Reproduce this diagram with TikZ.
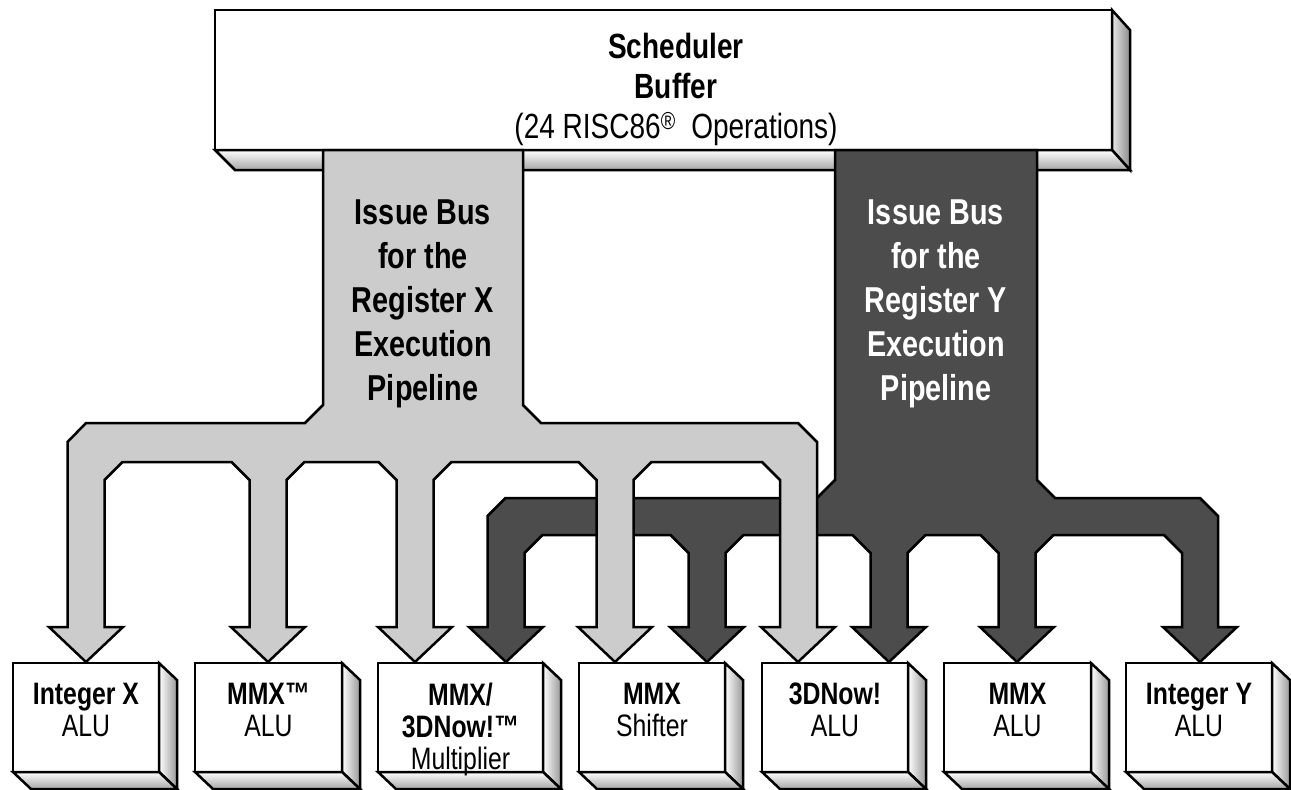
\documentclass[tikz,border=0pt]{standalone}
\usepackage{fontspec}
\setmainfont{Liberation Sans}[FakeStretch=0.8]
\usetikzlibrary{calc}
\tikzset{%
  unit box/.style={
    rectangle,
    draw,
    fill=white,
    line width=2.5pt,
    inner sep=0pt,
    outer sep=0pt,
    minimum height=109pt,
    anchor=north west
  },
  side face/.style={draw, line width=2.5pt, left color=white, right color=black!40},
  bottom face/.style={draw, line width=2.5pt, top color=white, bottom color=black!35},
  x bus/.style={draw, line width=2.5pt, fill=black!20},
  y bus/.style={draw, line width=2.5pt, fill=black!70},
  unit text/.style={anchor=north, inner sep=0pt, align=center,
    font=\fontsize{31}{32}\selectfont},
  bus text/.style={anchor=north, inner sep=0pt, align=center,
    font=\bfseries\fontsize{36}{44}\selectfont},
}
\newcommand{\execunit}[4]{%
  \node (#1) [unit box, minimum width=#3pt] at (#2,663) {};
  \draw [side face] (#1.north east) -- ++(18,17) -- ++(0,109) -- (#1.south east) -- cycle;
  \draw [bottom face] (#1.south west) -- ++(18,17) -- ($(#1.south east)+(18,17)$)
    -- (#1.south east) -- cycle;
  \node [unit text] at ($(#1.north)+(0,20)$) {#4};
}

\begin{document}
\begin{tikzpicture}[x=1pt,y=-1pt]
  \useasboundingbox (0,0) rectangle (1291,790);

  \node (sched) [unit box, minimum width=897pt, minimum height=140pt] at (215,10) {};
  \draw [side face, left color=black!10, right color=black!45]
    (sched.north east) -- ++(18,20) -- ++(0,140) -- (sched.south east) -- cycle;
  \draw [bottom face] (sched.south west) -- ++(20,20) -- ($(sched.south east)+(18,20)$)
    -- (sched.south east) -- cycle;
  \node [anchor=north, inner sep=0pt, align=center, font=\fontsize{35}{40}\selectfont]
    at (676,33) {\textbf{Scheduler}\\\textbf{Buffer}\\(24 RISC86\textsuperscript{®}\ \ Operations)};

  \execunit{intx}{13}{146}{\textbf{Integer X}\\ALU}
  \execunit{mmxa}{195}{147}{\textbf{MMX™}\\ALU}
  \execunit{mul}{378}{165}{\textbf{MMX/}\\\textbf{3DNow!™}\\Multiplier}
  \execunit{shf}{579}{146}{\textbf{MMX}\\Shifter}
  \execunit{tdn}{762}{146}{\textbf{3DNow!}\\ALU}
  \execunit{mmxb}{944}{147}{\textbf{MMX}\\ALU}
  \execunit{inty}{1126}{146}{\textbf{Integer Y}\\ALU}

  % register Y issue bus
  \draw [y bus] (835,150) -- (1037,150) -- (1037,480) -- (1055,498) -- (1200,498)
    -- (1218,516) -- (1218,627) -- (1237,627) -- (1200,662) -- (1163,627)
    -- (1182,627) -- (1182,553) -- (1164,535)
    \foreach \px in {1017,889,707} {
      -- (\px+36.5,535) -- (\px+18.5,553) -- (\px+18.5,627) -- (\px+37,627) -- (\px,662)
      -- (\px-37,627) -- (\px-18.5,627) -- (\px-18.5,553) -- (\px-36.5,535)
    }
    -- (542.5,535) -- (524.5,553) -- (524.5,627) -- (543,627) -- (506,662)
    -- (469,627) -- (487.5,627) -- (487.5,516) -- (505.5,498) -- (817,498)
    -- (835,480) -- cycle;

  % register X issue bus
  \draw [x bus] (323,150) -- (523,150) -- (523,405) -- (541,423) -- (798,423)
    -- (817,442) -- (817,627) -- (835,627) -- (798,662) -- (761,627)
    -- (780,627) -- (780,480) -- (762,462)
    \foreach \px in {615,415,268} {
      -- (\px+36.5,462) -- (\px+18.5,480) -- (\px+18.5,627) -- (\px+37,627) -- (\px,662)
      -- (\px-37,627) -- (\px-18.5,627) -- (\px-18.5,480) -- (\px-36.5,462)
    }
    -- (122.5,462) -- (104.5,480) -- (104.5,627) -- (123,627) -- (86,662)
    -- (49,627) -- (67.5,627) -- (67.5,442) -- (86,423) -- (305,423)
    -- (323,405) -- cycle;

  \node (xlabel) [bus text] at (423,200)
    {Issue Bus\\for the\\Register X\\Execution\\Pipeline};
  \node (ylabel) [bus text, text=white] at (936,200)
    {Issue Bus\\for the\\Register Y\\Execution\\Pipeline};
\end{tikzpicture}
\end{document}
